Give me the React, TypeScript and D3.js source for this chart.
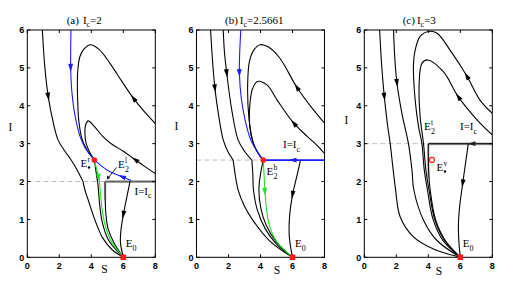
import React from 'react';
import * as d3 from 'd3';

type Pt = [number, number];
type Curve = { pts: Pt[]; color: string; w?: number; arrow?: number };

// axes
const sTicks = [0, 2, 4, 6, 8];
const iTicks = [0, 1, 2, 3, 4, 5, 6];
const panelTags = ['(a)', '(b)', '(c)'];
const icLabels = ['2', '2.5661', '3'];
const icLevels = [2, 2.5661, 3];
const slideStart = [4.86, 4.17, 4.0];

// panel (a), Ic = 2
const aLeftTop: Pt[] = [[0.94, 6], [1.1, 5.0], [1.31, 4.24], [1.6, 3.6], [1.92, 3.1], [2.35, 2.8], [2.77, 2.55], [3.15, 2.28], [3.48, 2.0]];
const aLeftBot: Pt[] = [[3.48, 2.0], [3.62, 1.75], [3.82, 1.5], [4.05, 1.2], [4.35, 0.85], [4.7, 0.52], [5.3, 0.2], [6, 0]];
const aBlueTop: Pt[] = [[2.73, 6], [2.71, 5.0], [2.76, 4.5], [2.84, 4.15], [3.0, 3.7], [3.29, 3.2], [3.6, 2.9], [3.9, 2.72], [4.19, 2.57]];
const aBlueRight: Pt[] = [[6.5, 2.03], [5.9, 2.13], [5.17, 2.26], [4.6, 2.42], [4.19, 2.57]];
const aGreen: Pt[] = [[4.19, 2.57], [4.35, 2.3], [4.47, 2.1], [4.57, 1.7], [4.7, 1.2], [4.9, 0.8], [5.25, 0.42], [6, 0]];
const aNearGreen: Pt[] = [[4.19, 2.57], [4.3, 2.25], [4.42, 1.9], [4.52, 1.4], [4.7, 0.9], [5.08, 0.45], [6, 0]];
const aOuter: Pt[] = [[8, 3.53], [7.3, 3.85], [6.63, 4.2], [5.9, 4.65], [5.17, 5.12], [4.5, 5.48], [3.96, 5.61], [3.55, 5.5], [3.29, 5.3], [3.15, 4.9], [3.13, 4.5], [3.16, 4.0], [3.22, 3.6], [3.4, 3.15], [3.7, 2.85], [3.95, 2.7], [4.19, 2.57]];
const aInner: Pt[] = [[8, 2.21], [7.4, 2.38], [6.73, 2.58], [6.0, 2.8], [5.27, 2.99], [4.7, 3.2], [4.2, 3.45], [3.81, 3.6], [3.65, 3.5], [3.6, 3.28], [3.68, 3.0], [3.9, 2.77], [4.19, 2.57]];
const aDown: Pt[] = [[6.42, 2.0], [6.2, 1.55], [6.0, 1.12], [5.85, 0.7], [5.82, 0.4], [6, 0]];
const aVert: Pt[] = [[4.86, 2.0], [4.87, 1.5], [4.92, 1.1], [5.05, 0.75], [5.4, 0.4], [6, 0]];

// panel (b), Ic = 2.5661
const bLeftTop: Pt[] = [[0.88, 6], [1.0, 5.2], [1.15, 4.46], [1.4, 3.7], [1.67, 3.1], [1.95, 2.8], [2.29, 2.5661]];
const bLeftBot: Pt[] = [[2.29, 2.5661], [2.45, 2.1], [2.6, 1.78], [3.0, 1.35], [3.57, 0.95], [4.6, 0.42], [6, 0]];
const bMidTop: Pt[] = [[1.67, 6], [1.75, 5.4], [1.89, 4.86], [2.2, 3.9], [2.6, 3.1], [3.0, 2.8], [3.46, 2.5661]];
const bMidBot: Pt[] = [[3.46, 2.5661], [3.52, 2.2], [3.56, 1.78], [3.8, 1.25], [4.3, 0.75], [5.0, 0.35], [6, 0]];
const bNearGreen: Pt[] = [[4.17, 2.5661], [4.0, 2.2], [3.9, 1.78], [4.02, 1.3], [4.35, 0.85], [5.0, 0.4], [6, 0]];
const bBlue: Pt[] = [[2.77, 6], [2.7, 5.4], [2.68, 4.86], [2.8, 4.2], [3.05, 3.6], [3.39, 3.1], [3.85, 2.75], [4.17, 2.5661]];
const bBlueH: Pt[] = [[8, 2.5661], [6.0, 2.5661], [4.17, 2.5661]];
const bGreen: Pt[] = [[4.17, 2.5661], [4.22, 2.2], [4.28, 1.73], [4.38, 1.25], [4.55, 0.85], [5.0, 0.42], [6, 0]];
const bOuter: Pt[] = [[8, 3.54], [7.2, 3.95], [6.27, 4.49], [5.2, 5.26], [4.5, 5.55], [3.96, 5.61], [3.55, 5.45], [3.3, 5.15], [3.2, 4.6], [3.27, 3.71], [3.56, 3.0], [3.85, 2.75], [4.17, 2.5661]];
const bInner: Pt[] = [[8, 2.74], [7.5, 2.97], [6.9, 3.2], [6.08, 3.54], [5.04, 4.15], [4.4, 4.55], [3.81, 4.64], [3.5, 4.45], [3.35, 4.1], [3.33, 3.45], [3.56, 3.0], [3.9, 2.72], [4.17, 2.5661]];
const bDown: Pt[] = [[6.5, 2.5661], [6.25, 2.1], [6.0, 1.65], [5.82, 1.1], [5.8, 0.55], [6, 0]];

// panel (c), Ic = 3
const cLeft: Pt[] = [[0.96, 6], [1.08, 5.1], [1.25, 4.24], [1.45, 3.5], [1.62, 3.0], [1.78, 2.4], [1.95, 1.8], [2.24, 1.07], [3.07, 0.54], [4.32, 0.22], [6, 0]];
const cMid: Pt[] = [[1.83, 6], [1.9, 5.3], [2.04, 4.6], [2.35, 3.8], [2.76, 3.0], [2.98, 2.3], [3.1, 1.77], [3.7, 0.98], [4.53, 0.45], [6, 0]];
const cOuter: Pt[] = [[8, 3.8], [7.23, 4.15], [6.4, 4.79], [5.36, 5.47], [4.53, 5.92], [4.01, 5.96], [3.49, 5.83], [3.18, 5.47], [3.07, 5.03], [3.18, 4.15], [3.39, 3.45], [3.6, 3.0], [3.75, 2.3], [3.95, 1.77], [4.3, 1.0], [4.9, 0.45], [6, 0]];
const cInner: Pt[] = [[8, 3.23], [7.0, 3.65], [5.87, 4.24], [4.94, 4.9], [3.95, 5.21], [3.6, 5.12], [3.43, 4.6], [3.49, 3.71], [3.7, 3.0], [3.85, 2.3], [4.05, 1.77], [4.4, 1.0], [5.0, 0.45], [6, 0]];
const cVert: Pt[] = [[4.0, 3.0], [4.02, 2.3], [4.12, 1.77], [4.45, 1.0], [5.05, 0.45], [6, 0]];
const cDown: Pt[] = [[6.5, 3.0], [6.3, 2.4], [6.15, 1.95], [5.95, 1.3], [5.88, 0.8], [5.93, 0.3], [6, 0]];
const cSlide: Pt[] = [[8, 3], [6.7, 3], [4.0, 3]];

const BLUE = '#1a1aff';
const GREEN = '#22e022';
const RED = '#ff1a1a';

const panelCurves: Curve[][] = [
  [
    { pts: aLeftTop, color: '#000', arrow: 2 },
    { pts: aLeftBot, color: '#000' },
    { pts: aVert, color: '#000' },
    { pts: aDown, color: '#000', arrow: 2 },
    { pts: aOuter, color: '#000', arrow: 2 },
    { pts: aInner, color: '#000', arrow: 2 },
    { pts: aNearGreen, color: '#000' },
    { pts: aGreen, color: GREEN, arrow: 2 },
    { pts: aBlueTop, color: BLUE, arrow: 1 },
    { pts: aBlueRight, color: BLUE, arrow: 1 },
  ],
  [
    { pts: bLeftTop, color: '#000', arrow: 2 },
    { pts: bLeftBot, color: '#000' },
    { pts: bMidTop, color: '#000', arrow: 2 },
    { pts: bMidBot, color: '#000' },
    { pts: bNearGreen, color: '#000' },
    { pts: bOuter, color: '#000', arrow: 2 },
    { pts: bInner, color: '#000', arrow: 3 },
    { pts: bDown, color: '#000', arrow: 2 },
    { pts: bGreen, color: GREEN, arrow: 2 },
    { pts: bBlue, color: BLUE, arrow: 2 },
    { pts: bBlueH, color: BLUE, w: 1.6, arrow: 1 },
  ],
  [
    { pts: cLeft, color: '#000', arrow: 2 },
    { pts: cMid, color: '#000', arrow: 2 },
    { pts: cOuter, color: '#000', arrow: 2 },
    { pts: cInner, color: '#000', arrow: 2 },
    { pts: cVert, color: '#000' },
    { pts: cDown, color: '#000', arrow: 2 },
    { pts: cSlide, color: '#222', w: 1.5, arrow: 1 },
  ],
];

const lefts = [27.3, 196.5, 364.3];
const PW = 128;
const TOP = 30;
const BOT = 257.3;

const serif = "'Liberation Serif', 'DejaVu Serif', serif";
const sans = "'Liberation Sans', Arial, sans-serif";

const Panel: React.FC<{ k: number }> = ({ k }) => {
  const left = lefts[k];
  const x = d3.scaleLinear().domain([0, 8]).range([left, left + PW]);
  const y = d3.scaleLinear().domain([0, 6]).range([BOT, TOP]);
  const line = d3.line<Pt>().x(d => x(d[0])).y(d => y(d[1])).curve(d3.curveCatmullRom.alpha(0.5));
  const ic = icLevels[k];
  const s0 = slideStart[k];

  // filled arrowhead pointing along the flow at point i
  const arrowHead = (c: Curve, i: number) => {
    const p = c.pts[i];
    const a = c.pts[Math.max(0, i - 1)];
    const b = c.pts[Math.min(c.pts.length - 1, i + 1)];
    let dx = x(b[0]) - x(a[0]);
    let dy = y(b[1]) - y(a[1]);
    const n = Math.hypot(dx, dy) || 1;
    dx /= n; dy /= n;
    const px = x(p[0]), py = y(p[1]);
    const L = 4, W = 2.4;
    const tip = [px + dx * L, py + dy * L];
    const bl = [px - dx * L - dy * W, py - dy * L + dx * W];
    const br = [px - dx * L + dy * W, py - dy * L - dx * W];
    return <path key={'ar' + i} d={`M${tip[0]},${tip[1]}L${bl[0]},${bl[1]}L${br[0]},${br[1]}Z`} fill={c.color} />;
  };

  const clipId = 'clip' + k;
  return (
    <g>
      <defs>
        <clipPath id={clipId}>
          <rect x={left} y={TOP} width={PW} height={BOT - TOP} />
        </clipPath>
      </defs>
      {/* I = Ic reference lines */}
      <line x1={x(0)} x2={x(s0)} y1={y(ic)} y2={y(ic)} stroke="#bdbdbd" strokeWidth={1} strokeDasharray="5,3" />
      {k === 0 && <line x1={x(s0)} x2={x(8)} y1={y(ic)} y2={y(ic)} stroke="#d0d0d0" strokeWidth={3} />}
      {k === 0 && <line x1={x(s0)} x2={x(8)} y1={y(ic)} y2={y(ic)} stroke="#666" strokeWidth={1.8} />}
      {k === 0 && <line x1={x(s0)} x2={x(s0)} y1={y(ic)} y2={y(1.5)} stroke="#c8c8c8" strokeWidth={2.6} />}
      {k === 2 && <line x1={x(s0)} x2={x(8)} y1={y(ic)} y2={y(ic)} stroke="#c8c8c8" strokeWidth={3} />}
      {k === 2 && <line x1={x(s0)} x2={x(s0)} y1={y(ic)} y2={y(2.1)} stroke="#c8c8c8" strokeWidth={2.6} />}
      <g clipPath={`url(#${clipId})`}>
        {panelCurves[k].map((c, j) => (
          <g key={j}>
            <path d={line(c.pts) || ''} fill="none" stroke={c.color} strokeWidth={c.w ?? 1.1} />
            {c.arrow !== undefined && arrowHead(c, c.arrow)}
          </g>
        ))}
      </g>
      {/* frame and ticks */}
      <rect x={left} y={TOP} width={PW} height={BOT - TOP} fill="none" stroke="#000" strokeWidth={1} />
      {sTicks.map(t => (
        <g key={'s' + t}>
          <line x1={x(t)} x2={x(t)} y1={BOT} y2={BOT - 3} stroke="#000" />
          <line x1={x(t)} x2={x(t)} y1={TOP} y2={TOP + 3} stroke="#000" />
          <text x={x(t)} y={268.5} textAnchor="middle" fontFamily={sans} fontWeight="bold" fontSize={9}>{t}</text>
        </g>
      ))}
      {iTicks.map(t => (
        <g key={'i' + t}>
          <line x1={left} x2={left + 3} y1={y(t)} y2={y(t)} stroke="#000" />
          <line x1={left + PW} x2={left + PW - 3} y1={y(t)} y2={y(t)} stroke="#000" />
          <text x={left - 3} y={y(t) + 3.2} textAnchor="end" fontFamily={sans} fontWeight="bold" fontSize={9}>{t}</text>
        </g>
      ))}
      {/* axis labels */}
      <text x={[104.5, 277, 439][k]} y={[273, 274, 275][k]} textAnchor="middle" fontFamily={serif} fontSize={11.5}>S</text>
      <text x={[10.5, 176.5, 346.5][k]} y={[131, 130, 124][k]} textAnchor="middle" fontFamily={serif} fontSize={11.5}>I</text>
      {/* title */}
      <text x={[66.7, 225, 402.7][k]} y={23.5} fontFamily={serif} fontSize={11}>
        <tspan>{panelTags[k]}</tspan>
        <tspan dx={k === 0 ? 4 : 2}>I</tspan>
        <tspan dy={3} fontSize={8}>c</tspan>
        <tspan dy={-3}>={icLabels[k]}</tspan>
      </text>
      {/* E0 */}
      <rect x={x(6) - 2.8} y={y(0) - 2.8} width={5.6} height={5.6} fill={RED} />
      <text x={x(6) + 2.5} y={246.5} fontFamily={serif} fontSize={11}>E</text>
      <text x={x(6) + 9.3} y={251} fontFamily={serif} fontSize={8}>0</text>
    </g>
  );
};

const Sub: React.FC<{ x: number; y: number; sup: string; sub: string; dot?: boolean }> = ({ x, y, sup, sub, dot }) => (
  <g fontFamily={serif}>
    <text x={x} y={y} fontSize={11}>E</text>
    <text x={x + 7} y={y - 5} fontSize={7.5}>{sup}</text>
    {dot ? <circle cx={x + 8.5} cy={y + 0.5} r={1.2} fill="#000" /> : <text x={x + 7} y={y + 3.5} fontSize={8}>{sub}</text>}
  </g>
);

const IeqIc: React.FC<{ x: number; y: number }> = ({ x, y }) => (
  <text x={x} y={y} fontFamily={serif} fontSize={11}>
    I=I<tspan dy={3.5} fontSize={8}>c</tspan>
  </text>
);

const App: React.FC = () => {
  const ya = d3.scaleLinear().domain([0, 6]).range([BOT, TOP]);
  const xa = d3.scaleLinear().domain([0, 8]).range([lefts[0], lefts[0] + PW]);
  const xb = d3.scaleLinear().domain([0, 8]).range([lefts[1], lefts[1] + PW]);
  const xc = d3.scaleLinear().domain([0, 8]).range([lefts[2], lefts[2] + PW]);
  return (
    <svg width={514} height={291} style={{ position: 'absolute', left: 0, top: 0, background: '#fff' }}>
      <rect width={514} height={291} fill="#fff" />
      {[0, 1, 2].map(k => <Panel key={k} k={k} />)}
      {/* equilibria */}
      <circle cx={xa(4.19)} cy={ya(2.57)} r={2.8} fill={RED} />
      <circle cx={xb(4.17)} cy={ya(2.5661)} r={2.8} fill={RED} />
      <circle cx={xc(4.23)} cy={ya(2.57)} r={2.5} fill="none" stroke={RED} strokeWidth={1.2} />
      {/* annotations (a) */}
      <Sub x={80.5} y={167} sup="r" sub="" dot />
      <Sub x={118} y={168} sup="l" sub="2" />
      <line x1={116.5} y1={167.5} x2={108.5} y2={177.5} stroke="#000" strokeWidth={0.9} />
      <path d="M106.8,179.6L107.2,175.6L110.3,178.1Z" fill="#000" />
      <IeqIc x={134.5} y={194.5} />
      {/* annotations (b) */}
      <IeqIc x={283} y={148} />
      <Sub x={266.5} y={175} sup="b" sub="2" />
      {/* annotations (c) */}
      <Sub x={424} y={130} sup="t" sub="2" />
      <IeqIc x={460} y={130} />
      <Sub x={436.5} y={171} sup="v" sub="" dot />
    </svg>
  );
};

export default App;
